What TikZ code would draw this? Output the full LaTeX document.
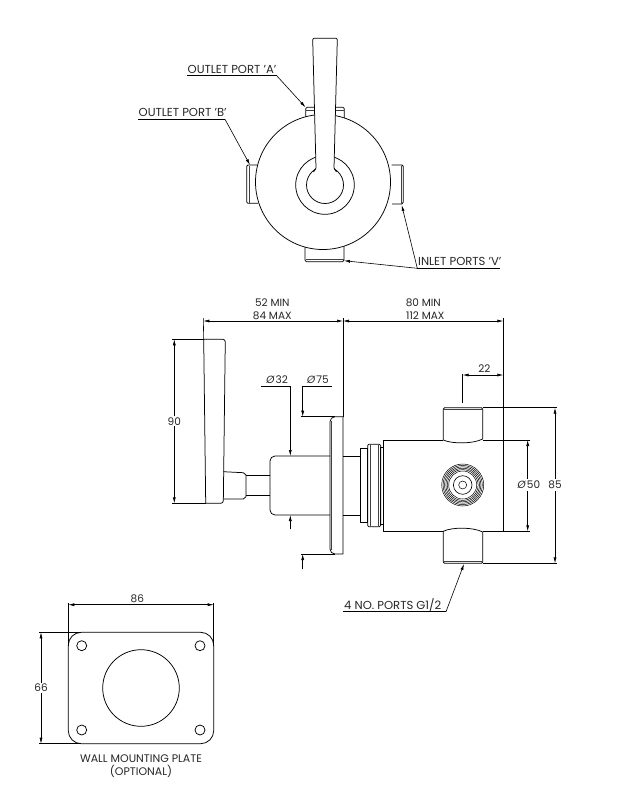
\documentclass[tikz,border=0pt]{standalone}
\usepackage{fontspec}
\setmainfont{Poppins}
\usetikzlibrary{arrows.meta}
\newfontface\slfont[FakeSlant=0.2]{Poppins}
\tikzset{
  part/.style={line width=0.75pt,black,line join=round},
  thin part/.style={line width=0.45pt,black!75},
  dim/.style={line width=0.6pt,black},
  tip both/.style={dim,{Latex[length=6pt,width=3pt]}-{Latex[length=6pt,width=3pt]}},
  tip end/.style={dim,-{Latex[length=6pt,width=3pt]}},
  lab/.style={font=\fontsize{11.6}{13}\selectfont,inner sep=0pt,text=black!85},
  labm/.style={lab,font=\fontsize{10.5}{12}\selectfont},
  labc/.style={lab,font=\fontsize{11}{13}\selectfont},
}
\newcommand{\dia}{{\slfont Ø}}
\begin{document}
\begin{tikzpicture}[x=1pt,y=-1pt]
\useasboundingbox (0,0) rectangle (627,785);
% ---------- top view: ports first, body over them
\draw[part] (305.7,119) -- (305.7,108.6) -- (307,107.3) -- (343,107.3) -- (344.3,108.6) -- (344.3,119);
\draw[thin part] (305.7,110) -- (344.3,110);
\draw[part] (258,165) -- (248,165) -- (246.7,166.3) -- (246.7,202) -- (248,203.3) -- (258,203.3);
\draw[thin part] (249,165.5) -- (249,203);
\draw[part] (391.7,165) -- (402,165) -- (403.3,166.3) -- (403.3,202) -- (402,204) -- (392,204);
\draw[thin part] (401,165.5) -- (401,203.5);
\draw[part] (305,245) -- (305,260) -- (306.3,261.7) -- (342.7,261.7) -- (344,260) -- (344,245);
\draw[thin part] (305.5,259.5) -- (343.5,259.5);
\draw[part,fill=white] (323,182) circle[radius=67.5];
\draw[part] (325,185) circle[radius=29.3];
\draw[part] (325,185) circle[radius=18.5];
\fill[white] (312.7,38.3) -- (337.3,38.3) -- (334,168) -- (334,170) -- (316,170) -- (316,168) -- cycle;
\draw[part] (313.5,172) -- (316,168) -- (312.7,39.6) -- (313.8,38.3) -- (336.2,38.3) -- (337.3,39.6) -- (334,168) -- (336.5,172);
% ---------- leaders of top view
\node[lab,anchor=base west] (lA) at (187.5,73) {OUTLET PORT 'A'};
\coordinate (lAe) at (276.7,75.7);
\coordinate (lAs) at (187.3,75.7);
\coordinate (pA) at (305.5,107.3);
\draw[dim] (lAs) -- (lAe);
\draw[tip end] (lAe) -- (pA);
\node[lab,anchor=base west] (lB) at (138.5,116.8) {OUTLET PORT 'B'};
\coordinate (lBs) at (138.3,119.3);
\coordinate (lBe) at (225,119.3);
\coordinate (pB) at (250,165);
\draw[dim] (lBs) -- (lBe);
\draw[tip end] (lBe) -- (pB);
\node[lab,anchor=base west] (lV) at (418,265.8) {INLET PORTS 'V'};
\coordinate (lVs) at (417.3,268.3);
\coordinate (lVe) at (500,268.3);
\coordinate (pV1) at (401.7,205);
\coordinate (pV2) at (344,260.7);
\draw[dim] (lVs) -- (lVe);
\draw[tip end] (lVs) -- (pV1);
\draw[tip end] (lVs) -- (pV2);
% ---------- side view
% handle
\draw[part] (203.7,339.3) [rounded corners=2.5pt] -- (225.3,339.3) -- (223.3,503.3) [sharp corners] -- (205.7,503.3) -- cycle;
\draw[part] (223.3,471.7) -- (243.3,472.7) -- (246,475) -- (246,496.7) -- (243.3,499) -- (223.3,499);
\draw[part] (246,475.7) -- (270,475.7) (246,495.7) -- (270,495.7);
% hub + flange
\draw[part] (330,456) [rounded corners=5pt] -- (270,456) -- (270,515) [sharp corners] -- (330,515);
\draw[part] (343,416.7) [rounded corners=5pt] -- (330,416.7) -- (330,554) [sharp corners] -- (343,554) -- cycle;
\draw[thin part] (331.6,421) -- (331.6,550);
\draw[part] (343,456) -- (360.7,456) (343,515) -- (360.7,515);
% collars
\draw[part] (360.7,448.3) rectangle (367.7,522.3);
\draw[part,rounded corners=1.2pt] (367.7,444.3) rectangle (380.7,526.7);
\draw[thin part] (370,444.6) -- (370,526.4) (378.5,444.6) -- (378.5,526.4);
\draw[part] (380.7,447.3) rectangle (383.3,524);
% body
\draw[part] (383.3,440) -- (443.3,440) (482.7,440) -- (503.3,440) -- (503.3,531.3) -- (482.7,531.3) (443.3,531.3) -- (383.3,531.3) -- (383.3,440);
% ports
\draw[part] (443.3,440) .. controls (452,444) and (473,444) .. (482.7,439) -- (482.7,409) -- (481.5,407.7) -- (444.5,407.7) -- (443.3,409) -- cycle;
\draw[thin part] (443.8,409.6) -- (482.2,409.6);
\draw[part] (443.3,531.3) .. controls (452,527) and (473,527) .. (482.7,532) -- (482.7,562) -- (481.5,563.3) -- (444.5,563.3) -- (443.3,562) -- cycle;
\draw[thin part] (443.8,561.4) -- (482.2,561.4);
% knob
\foreach \r in {21,19.6,18.2,16.8,15.4,14} \draw[line width=0.5pt] (462.7,485) circle[radius=\r];
\draw[line width=0.6pt] (462.7,485) circle[radius=9.3];
\draw[line width=0.5pt] (462.7,485) circle[radius=4];
% ---------- dimensions
\coordinate (xL) at (203.3,321);
\coordinate (xM) at (343,321);
\coordinate (xR) at (503.3,321);
\draw[dim] (203.3,318) -- (203.7,339.3);
\draw[line width=0.9pt] (343,318) -- (343,416.7);
\draw[dim] (503.3,318) -- (503.3,440);
\draw[tip both] (xL) -- (xM);
\draw[tip both] (xM) -- (xR);
\node[labm] (d52) at (272.3,303) {52 MIN};
\node[labm] (d84) at (272.3,315.3) {84 MAX};
\node[labm] (d80) at (423.3,302.5) {80 MIN};
\node[labm] (d112) at (425.3,315.3) {112 MAX};
% 90
\draw[dim] (172,339.3) -- (203.7,339.3) (172,503.3) -- (205.7,503.3);
\coordinate (h90a) at (174.3,339.3);
\coordinate (h90b) at (174.3,503.3);
\draw[tip both] (h90a) -- (h90b) node[midway,labm,fill=white,inner sep=1pt] (d90) {90};
% dia 32
\coordinate (a32) at (290.3,386);
\coordinate (b32) at (290.3,456);
\coordinate (c32) at (290.3,529.3);
\coordinate (e32) at (290.3,515);
\coordinate (s32) at (261,386);
\node[labm] (d32) at (276.7,380) {\dia\,32};
\draw[dim] (s32) -- (a32);
\draw[tip end] (a32) -- (b32);
\draw[tip end] (c32) -- (e32);
% dia 75
\coordinate (a75) at (302.7,386);
\coordinate (s75) at (331.7,386);
\coordinate (b75) at (302.7,416.7);
\coordinate (c75) at (302.7,569.3);
\coordinate (e75) at (302.7,554);
\node[labm] (d75) at (317.5,380) {\dia\,75};
\draw[dim] (s75) -- (a75);
\draw[tip end] (a75) -- (b75);
\draw[dim] (300.7,416.7) -- (335,416.7) (300.7,554) -- (335,554);
\draw[tip end] (c75) -- (e75);
% 22
\draw[dim] (462.7,373.5) -- (462.7,402.7);
\coordinate (a22) at (462.7,375);
\coordinate (b22) at (503.3,375);
\draw[tip both] (a22) -- (b22);
\node[labm] (d22) at (484.3,369) {22};
% 85
\draw[dim] (482.7,407.7) -- (557,407.7) (482.7,563.3) -- (557,563.3);
\coordinate (a85) at (555,407.7);
\coordinate (b85) at (555,563.3);
\draw[tip both] (a85) -- (b85);
\node[labm,fill=white,inner sep=2pt] (d85) at (555,485) {85};
% dia 50
\draw[dim] (503.3,440) -- (530,440) (503.3,531.3) -- (530,531.3);
\coordinate (a50) at (527.7,440);
\coordinate (b50) at (527.7,531.3);
\draw[tip both] (a50) -- (b50);
\node[labm,fill=white,inner sep=2pt] (d50) at (528.5,485) {\dia\,50};
% ports leader
\node[lab,anchor=base west] (lP) at (344,609) {4 NO. PORTS G1/2};
\coordinate (lPs) at (343.3,611.7);
\coordinate (lPe) at (446,611.7);
\coordinate (pP) at (464,564);
\draw[dim] (lPs) -- (lPe);
\draw[tip end] (lPe) -- (pP);
% ---------- plate
\draw[part,rounded corners=13pt] (68.3,632.3) rectangle (213.7,743.7);
\foreach \p in {(81.7,645.7),(200,645.7),(81.7,730),(200,730)} \draw[part] \p circle[radius=5];
\draw[part] (141,688) circle[radius=38.3];
\draw[dim] (68.3,603) -- (68.3,646) (213.7,603) -- (213.7,646);
\coordinate (a86) at (68.3,604.7);
\coordinate (b86) at (213.7,604.7);
\draw[tip both] (a86) -- (b86);
\node[labm] (d86) at (137.3,598.5) {86};
\draw[dim] (39,632.3) -- (81,632.3) (39,743.7) -- (81,743.7);
\coordinate (a66) at (41,632.3);
\coordinate (b66) at (41,743.7);
\draw[tip both] (a66) -- (b66) node[midway,labm,fill=white,inner sep=1pt] (d66) {66};
\node[labc] (cap1) at (141,758.3) {WALL MOUNTING PLATE};
\node[labc] (cap2) at (141,771) {(OPTIONAL)};
\end{tikzpicture}
\end{document}
